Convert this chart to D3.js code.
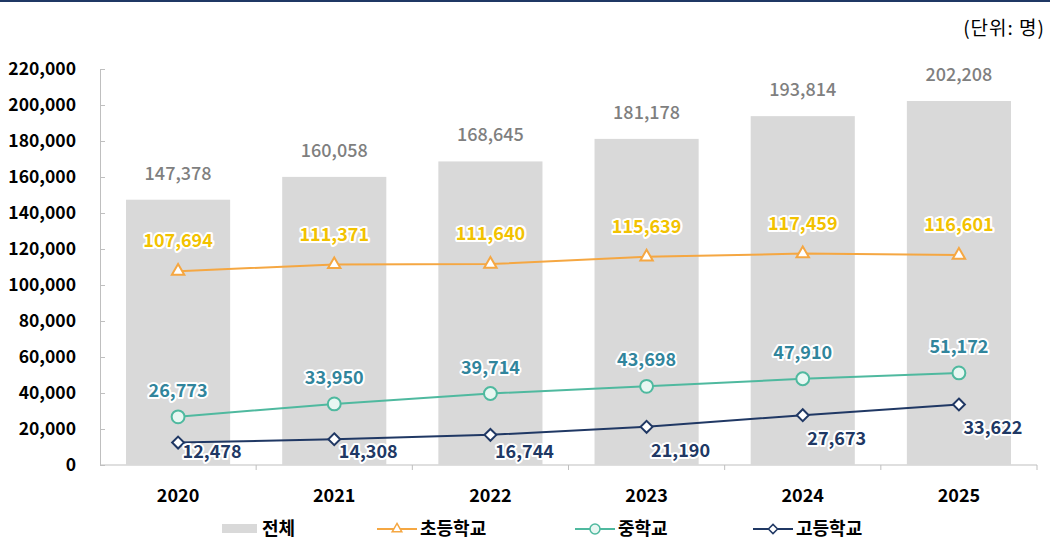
<!DOCTYPE html>
<html>
<head>
<meta charset="utf-8">
<script src="https://cdn.jsdelivr.net/npm/d3@7/dist/d3.min.js"></script>
<style>
  body { margin: 0; background: #fff; }
  svg { display: block; font-family: "Noto Sans CJK KR", "Noto Sans", sans-serif; }
</style>
</head>
<body>
<div id="chart"></div>
<script>
const years = ["2020", "2021", "2022", "2023", "2024", "2025"];
const totalValues = [147378, 160058, 168645, 181178, 193814, 202208];
const elementaryValues = [107694, 111371, 111640, 115639, 117459, 116601];
const middleValues = [26773, 33950, 39714, 43698, 47910, 51172];
const highValues = [12478, 14308, 16744, 21190, 27673, 33622];
const yTicks = [0, 20000, 40000, 60000, 80000, 100000, 120000, 140000, 160000, 180000, 200000, 220000];

const width = 1050;
const height = 542;
const margin = { left: 100, right: 13, top: 69, bottom: 77 };

const svg = d3.select("#chart")
    .append("svg")
    .attr("width", width)
    .attr("height", height);

// top border
svg.append("rect")
    .attr("x", 0).attr("y", 0)
    .attr("width", width).attr("height", 2)
    .attr("fill", "#1f3864");

svg.append("text")
    .attr("x", 1045)
    .attr("y", 35)
    .attr("text-anchor", "end")
    .style("font-size", "19px")
    .style("letter-spacing", "1px")
    .style("fill", "#000")
    .text("(단위:  명)");

const x = d3.scaleBand()
    .domain(years)
    .range([margin.left, width - margin.right])
    .paddingInner(1 / 3)
    .paddingOuter(1 / 6);

const xPoint = d => x(d) + x.bandwidth() / 2;

const y = d3.scaleLinear()
    .domain([0, 220000])
    .range([height - margin.bottom, margin.top]);

const fmt = d3.format(",");

// Y axis
const yAxis = svg.append("g")
    .attr("transform", `translate(${margin.left},0)`)
    .call(d3.axisRight(y).tickValues(yTicks).tickSize(5).tickFormat(""));
yAxis.select(".domain").attr("stroke", "#bfbfbf");
yAxis.selectAll(".tick line").attr("stroke", "#bfbfbf");

svg.selectAll(".ylabel")
    .data(yTicks)
    .enter().append("text")
    .attr("class", "ylabel")
    .attr("x", 76)
    .attr("y", d => y(d))
    .attr("dy", "0.35em")
    .attr("text-anchor", "end")
    .style("font-size", "17.5px")
    .style("font-weight", "bold")
    .style("fill", "#000")
    .text(d => fmt(d));

// X axis
const step = x.step();
const boundaries = d3.range(years.length + 1).map(i => margin.left + i * step);
svg.append("line")
    .attr("x1", margin.left).attr("x2", boundaries[boundaries.length - 1])
    .attr("y1", y(0)).attr("y2", y(0))
    .attr("stroke", "#bfbfbf");
svg.selectAll(".xtick")
    .data(boundaries.slice(1))
    .enter().append("line")
    .attr("x1", d => d).attr("x2", d => d)
    .attr("y1", y(0)).attr("y2", y(0) + 5)
    .attr("stroke", "#bfbfbf");

svg.selectAll(".xlabel")
    .data(years)
    .enter().append("text")
    .attr("x", d => xPoint(d))
    .attr("y", 502)
    .attr("text-anchor", "middle")
    .style("font-size", "18px")
    .style("font-weight", "bold")
    .style("fill", "#000")
    .text(d => d);

// Bars (전체)
svg.selectAll(".bar")
    .data(years)
    .enter().append("rect")
    .attr("x", d => x(d))
    .attr("y", (d, i) => y(totalValues[i]))
    .attr("width", x.bandwidth())
    .attr("height", (d, i) => y(0) - y(totalValues[i]))
    .attr("fill", "#d9d9d9");

svg.selectAll(".totalLabel")
    .data(years)
    .enter().append("text")
    .attr("x", d => xPoint(d))
    .attr("y", (d, i) => y(totalValues[i]) - 20)
    .attr("text-anchor", "middle")
    .style("font-size", "18px")
    .style("font-weight", "500")
    .style("fill", "#7f7f7f")
    .text((d, i) => fmt(totalValues[i]));

const series = [
    { values: elementaryValues, line: "#f5a742", label: "#f2c200", marker: "triangle", fill: "#fff", lift: 24 },
    { values: middleValues, line: "#4fb99f", label: "#31859c", marker: "circle", fill: "#e8f7f2", lift: 20 },
    { values: highValues, line: "#203864", label: "#203864", marker: "diamond", fill: "#fff", lift: 0 }
];

const symbolType = {
    triangle: d3.symbolTriangle2,
    circle: d3.symbolCircle,
    diamond: d3.symbolDiamond2
};
const symbolSize = { triangle: 110, circle: 130, diamond: 90 };

const line = d3.line()
    .x(d => xPoint(d.year))
    .y(d => y(d.value));

series.forEach((s, si) => {
    const pts = years.map((yr, i) => ({ year: yr, value: s.values[i] }));

    svg.append("path")
        .datum(pts)
        .attr("fill", "none")
        .attr("stroke", s.line)
        .attr("stroke-width", 2)
        .attr("d", line);

    svg.selectAll(".m" + si)
        .data(pts)
        .enter().append("path")
        .attr("transform", d => `translate(${xPoint(d.year)},${y(d.value)})`)
        .attr("d", d3.symbol().type(symbolType[s.marker]).size(symbolSize[s.marker]))
        .attr("fill", s.fill)
        .attr("stroke", s.line)
        .attr("stroke-width", 2);

    svg.selectAll(".l" + si)
        .data(pts)
        .enter().append("text")
        .attr("x", d => s.marker === "diamond" ? xPoint(d.year) + 34 : xPoint(d.year))
        .attr("y", d => s.marker === "diamond"
            ? Math.min(y(d.value) + 30, y(0) - 7)
            : y(d.value) - s.lift)
        .attr("text-anchor", "middle")
        .style("font-size", "18px")
        .style("font-weight", "bold")
        .style("fill", s.label)
        .style("paint-order", "stroke")
        .style("stroke", "#fff")
        .style("stroke-width", "4px")
        .style("stroke-linejoin", "round")
        .text(d => fmt(d.value));
});

// Legend
const legendY = 529;
const legend = svg.append("g");

legend.append("rect")
    .attr("x", 222).attr("y", legendY - 5)
    .attr("width", 35).attr("height", 9)
    .attr("fill", "#d9d9d9");
legend.append("text")
    .attr("x", 262).attr("y", legendY)
    .attr("dy", "0.35em")
    .style("font-size", "18px").style("font-weight", "bold")
    .text("전체");

const legendItems = [
    { name: "초등학교", x: 377, s: series[0] },
    { name: "중학교", x: 575, s: series[1] },
    { name: "고등학교", x: 753, s: series[2] }
];

legendItems.forEach(item => {
    legend.append("line")
        .attr("x1", item.x).attr("x2", item.x + 40)
        .attr("y1", legendY).attr("y2", legendY)
        .attr("stroke", item.s.line).attr("stroke-width", 2);
    legend.append("path")
        .attr("transform", `translate(${item.x + 20},${legendY})`)
        .attr("d", d3.symbol().type(symbolType[item.s.marker]).size(symbolSize[item.s.marker] * 0.6))
        .attr("fill", item.s.fill)
        .attr("stroke", item.s.line)
        .attr("stroke-width", 1.5);
    legend.append("text")
        .attr("x", item.x + 43).attr("y", legendY)
        .attr("dy", "0.35em")
        .style("font-size", "18px").style("font-weight", "bold")
        .text(item.name);
});
</script>
</body>
</html>
